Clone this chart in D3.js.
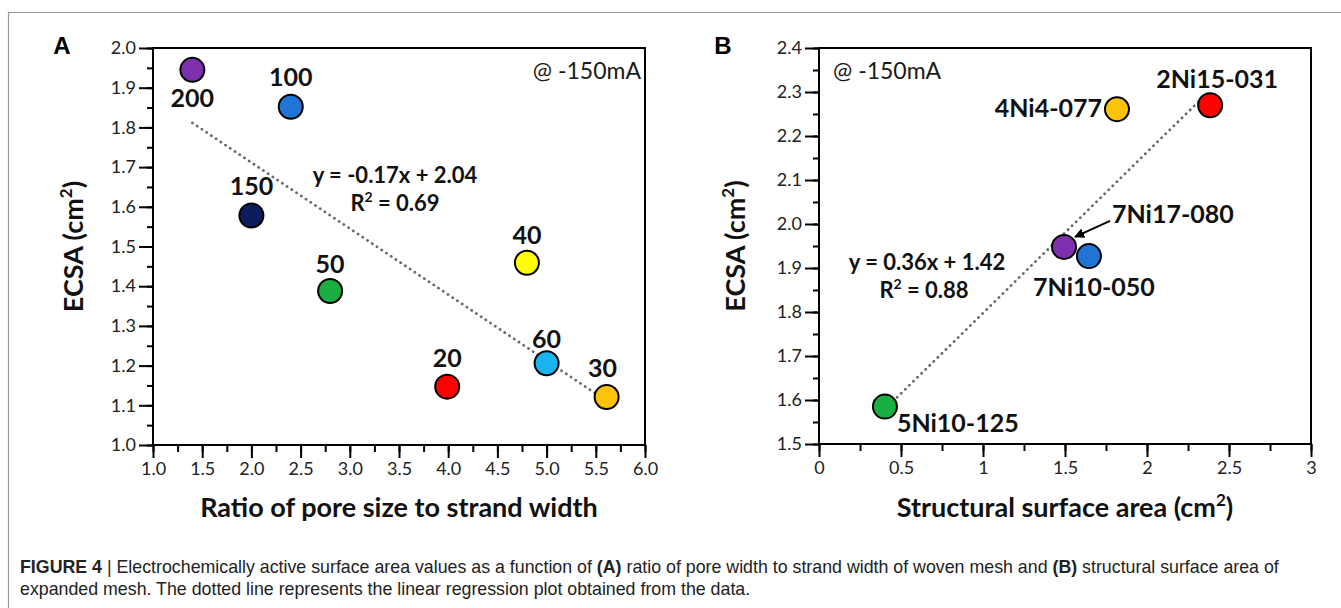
<!DOCTYPE html>
<html>
<head>
<meta charset="utf-8">
<script src="https://cdn.jsdelivr.net/npm/d3@7"></script>
<style>
  body { margin: 0; background: #fff; }
  svg { display: block; }
</style>
</head>
<body>
<svg width="1341" height="608"></svg>
<script>
// panel A: woven mesh
const ratioX = [1.4, 2.4, 2.0, 2.8, 3.99, 4.8, 5.0, 5.61];
const ecsaA = [1.945, 1.852, 1.578, 1.388, 1.147, 1.459, 1.206, 1.121];
const labelsA = ['200', '100', '150', '50', '20', '40', '60', '30'];
const colorsA = ['#7f2fae', '#1f74d4', '#0b1d5c', '#19b041', '#ff0000', '#ffff00', '#1ab5f0', '#fdc20a'];
const ticksAx = [1.0, 1.5, 2.0, 2.5, 3.0, 3.5, 4.0, 4.5, 5.0, 5.5, 6.0];
const ticksAy = [1.0, 1.1, 1.2, 1.3, 1.4, 1.5, 1.6, 1.7, 1.8, 1.9, 2.0];

// panel B: expanded mesh
const areaX = [2.385, 1.817, 1.494, 1.646, 0.402];
const ecsaB = [2.27, 2.261, 1.948, 1.927, 1.585];
const labelsB = ['2Ni15-031', '4Ni4-077', '7Ni17-080', '7Ni10-050', '5Ni10-125'];
const colorsB = ['#ff0000', '#fdc20a', '#7f2fae', '#1f74d4', '#19b041'];
const ticksBx = [0, 0.5, 1, 1.5, 2, 2.5, 3];
const ticksBy = [1.5, 1.6, 1.7, 1.8, 1.9, 2.0, 2.1, 2.2, 2.3, 2.4];

const svg = d3.select('svg');
const FONT = 'Lato, "Open Sans", sans-serif';

// frame of the figure
svg.append('line').attr('x1', 8).attr('x2', 1341).attr('y1', 12.5).attr('y2', 12.5)
    .attr('stroke', '#9a9a9a').attr('stroke-width', 1.2);
svg.append('line').attr('x1', 8.5).attr('x2', 8.5).attr('y1', 12).attr('y2', 608)
    .attr('stroke', '#9a9a9a').attr('stroke-width', 1.2);

function fit(xs, ys) {
    const mx = d3.mean(xs), my = d3.mean(ys);
    const sxy = d3.sum(xs, (x, i) => (x - mx) * (ys[i] - my));
    const sxx = d3.sum(xs, x => (x - mx) * (x - mx));
    const slope = sxy / sxx;
    return { slope: slope, intercept: my - slope * mx };
}

function drawPanel(p) {
    const g = svg.append('g');
    const x = d3.scaleLinear().domain(p.xDomain).range([p.left, p.right]);
    const y = d3.scaleLinear().domain(p.yDomain).range([p.bottom, p.top]);

    // minor ticks
    const minorX = d3.range(p.xDomain[0], p.xDomain[1] + 1e-9, p.xStep / 2);
    const minorY = d3.range(p.yDomain[0], p.yDomain[1] + 1e-9, p.yStep / 2);
    g.append('g').attr('transform', `translate(0,${p.bottom})`)
        .call(d3.axisBottom(x).tickValues(minorX).tickSize(7).tickFormat('').tickSizeOuter(0));
    g.append('g').attr('transform', `translate(${p.left},0)`)
        .call(d3.axisLeft(y).tickValues(minorY).tickSize(6).tickFormat('').tickSizeOuter(0));

    const xa = g.append('g').attr('transform', `translate(0,${p.bottom})`)
        .call(d3.axisBottom(x).tickValues(p.xTicks).tickSize(13).tickPadding(4)
            .tickFormat(p.xFormat).tickSizeOuter(0));
    const ya = g.append('g').attr('transform', `translate(${p.left},0)`)
        .call(d3.axisLeft(y).tickValues(p.yTicks).tickSize(14).tickPadding(3)
            .tickFormat(d3.format('.1f')).tickSizeOuter(0));
    [xa, ya].forEach(a => {
        a.attr('font-size', 18).attr('font-family', FONT);
        a.selectAll('text').attr('fill', '#222');
    });
    g.selectAll('.domain').remove();
    g.selectAll('.tick line').attr('stroke', '#000').attr('stroke-width', 2);

    g.append('rect')
        .attr('x', p.left).attr('y', p.top)
        .attr('width', p.right - p.left).attr('height', p.bottom - p.top)
        .attr('fill', 'none').attr('stroke', '#000').attr('stroke-width', 2);

    // regression line
    const f = fit(p.xs, p.ys);
    const x0 = d3.min(p.xs), x1 = d3.max(p.xs);
    g.append('line')
        .attr('x1', x(x0)).attr('y1', y(f.slope * x0 + f.intercept))
        .attr('x2', x(x1)).attr('y2', y(f.slope * x1 + f.intercept))
        .attr('stroke', '#6a6a6a').attr('stroke-width', 2.8)
        .attr('stroke-linecap', 'round').attr('stroke-dasharray', '0.1 5.6');

    g.selectAll('circle.pt').data(p.xs).enter().append('circle')
        .attr('class', 'pt')
        .attr('cx', d => x(d))
        .attr('cy', (d, i) => y(p.ys[i]))
        .attr('r', 12)
        .attr('fill', (d, i) => p.colors[i])
        .attr('stroke', '#000').attr('stroke-width', 2);

    g.selectAll('text.lbl').data(p.labels).enter().append('text')
        .attr('class', 'lbl')
        .attr('x', (d, i) => x(p.xs[i]) + p.offsets[i][0])
        .attr('y', (d, i) => y(p.ys[i]) + p.offsets[i][1])
        .attr('text-anchor', (d, i) => p.offsets[i][2] || 'middle')
        .attr('font-family', FONT).attr('font-weight', 700).attr('font-size', 25)
        .attr('fill', '#111')
        .text(d => d);

    // equation
    const eq = g.append('text').attr('font-family', FONT).attr('font-weight', 700)
        .attr('font-size', 22).attr('fill', '#111').attr('text-anchor', 'middle');
    eq.append('tspan').attr('x', p.eqX).attr('y', p.eqY).text(p.eq);
    const r2 = g.append('text').attr('font-family', FONT).attr('font-weight', 700)
        .attr('font-size', 22).attr('fill', '#111').attr('text-anchor', 'middle')
        .attr('x', p.eqX2).attr('y', p.eqY + 28);
    r2.append('tspan').text('R');
    r2.append('tspan').attr('font-size', 14).attr('dy', -9).text('2');
    r2.append('tspan').attr('dy', 9).text(' = ' + p.r2);

    g.append('text').attr('x', p.noteX).attr('y', 79)
        .attr('text-anchor', p.noteAnchor)
        .attr('font-family', FONT).attr('font-size', 23).attr('fill', '#1a1a1a')
        .text('@ -150mA');

    // axis titles
    const xt = g.append('text').attr('x', (p.left + p.right) / 2).attr('y', 517)
        .attr('text-anchor', 'middle').attr('font-family', FONT).attr('font-weight', 700)
        .attr('font-size', 27).attr('fill', '#111');
    xt.append('tspan').text(p.xTitle);
    if (p.xTitleSup) {
        xt.append('tspan').attr('font-size', 17).attr('dy', -11).text('2');
        xt.append('tspan').attr('dy', 11).text(')');
    }
    const yt = g.append('text')
        .attr('transform', `translate(${p.yTitleX},${(p.top + p.bottom) / 2}) rotate(-90)`)
        .attr('text-anchor', 'middle').attr('font-family', FONT).attr('font-weight', 700)
        .attr('font-size', 27).attr('fill', '#111');
    yt.append('tspan').text('ECSA (cm');
    yt.append('tspan').attr('font-size', 17).attr('dy', -11).text('2');
    yt.append('tspan').attr('dy', 11).text(')');

    g.append('text').attr('x', p.letterX).attr('y', 54)
        .attr('font-family', '"Liberation Sans", Arial, sans-serif').attr('font-weight', 700)
        .attr('font-size', 24).attr('fill', '#000').attr('text-anchor', 'middle')
        .text(p.letter);

    return { x: x, y: y, g: g };
}

drawPanel({
    letter: 'A', letterX: 62,
    left: 153, right: 645, top: 48, bottom: 445,
    xDomain: [1, 6], yDomain: [1, 2], xStep: 0.5, yStep: 0.1,
    xTicks: ticksAx, yTicks: ticksAy, xFormat: d3.format('.1f'),
    xs: ratioX, ys: ecsaA, labels: labelsA, colors: colorsA,
    offsets: [[0, 37], [0, -21], [0, -21], [0, -18], [0, -20], [0, -19], [0, -15], [-4, -20]],
    eq: 'y = -0.17x + 2.04', eqX: 395, eqY: 183, eqX2: 395, r2: '0.69',
    noteX: 641, noteAnchor: 'end',
    xTitle: 'Ratio of pore size to strand width', xTitleSup: false,
    yTitleX: 83
});

const pB = drawPanel({
    letter: 'B', letterX: 723,
    left: 819, right: 1311, top: 48, bottom: 444,
    xDomain: [0, 3], yDomain: [1.5, 2.4], xStep: 0.5, yStep: 0.1,
    xTicks: ticksBx, yTicks: ticksBy, xFormat: d3.format('~g'),
    xs: areaX, ys: ecsaB, labels: labelsB, colors: colorsB,
    offsets: [[7, -17], [-15, 8, 'end'], [48, -24, 'start'], [5, 40], [12, 25, 'start']],
    eq: 'y = 0.36x + 1.42', eqX: 927, eqY: 270, eqX2: 924, r2: '0.88',
    noteX: 833, noteAnchor: 'start',
    xTitle: 'Structural surface area (cm', xTitleSup: true,
    yTitleX: 745
});

// arrow pointing to 7Ni17-080
svg.append('defs').append('marker')
    .attr('id', 'arr').attr('viewBox', '0 0 10 10').attr('refX', 9).attr('refY', 5)
    .attr('markerWidth', 5).attr('markerHeight', 5).attr('orient', 'auto')
    .append('path').attr('d', 'M0,0 L10,5 L0,10 z').attr('fill', '#000');
const ax = pB.x(areaX[2]), ay = pB.y(ecsaB[2]);
svg.append('line')
    .attr('x1', ax + 46).attr('y1', ay - 26)
    .attr('x2', ax + 11).attr('y2', ay - 10)
    .attr('stroke', '#000').attr('stroke-width', 2)
    .attr('marker-end', 'url(#arr)');

// caption
const cap = svg.append('g').attr('font-family', '"Liberation Sans Narrow", "Arial Narrow", sans-serif')
    .attr('font-size', 17.8).attr('fill', '#222');
const l1 = cap.append('text').attr('x', 20).attr('y', 573);
l1.append('tspan').attr('font-weight', 700).text('FIGURE 4');
l1.append('tspan').text(' | Electrochemically active surface area values as a function of ');
l1.append('tspan').attr('font-weight', 700).text('(A)');
l1.append('tspan').text(' ratio of pore width to strand width of woven mesh and ');
l1.append('tspan').attr('font-weight', 700).text('(B)');
l1.append('tspan').text(' structural surface area of');
cap.append('text').attr('x', 20).attr('y', 595)
    .text('expanded mesh. The dotted line represents the linear regression plot obtained from the data.');
</script>
</body>
</html>
